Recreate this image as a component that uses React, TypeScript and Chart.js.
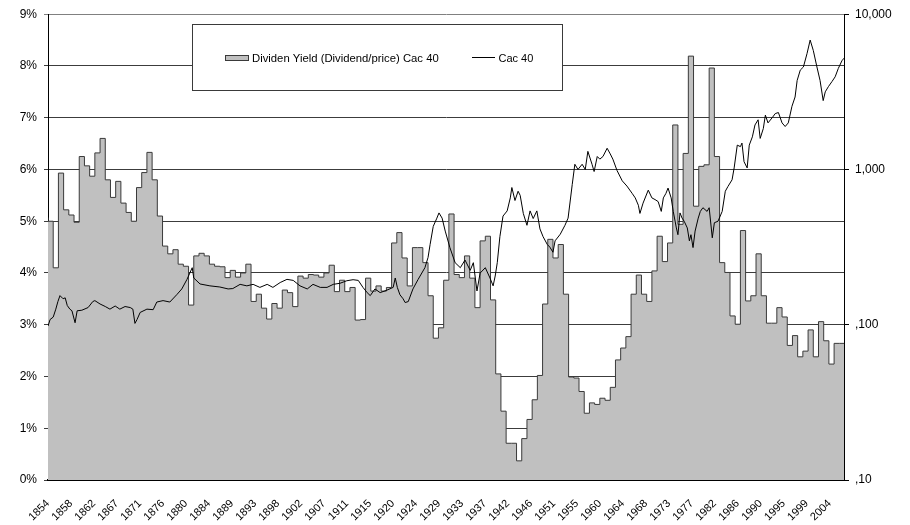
import { useEffect, useRef } from 'react';
import { Chart, registerables } from 'chart.js';

Chart.register(...registerables);

// ---------- data ----------
const xTickLabels = ['1854', '1858', '1862', '1867', '1871', '1876', '1880', '1884', '1889', '1893', '1898', '1902', '1907', '1911', '1915', '1920', '1924', '1929', '1933', '1937', '1942', '1946', '1951', '1955', '1960', '1964', '1968', '1973', '1977', '1982', '1986', '1990', '1995', '1999', '2004'];
const xFirstTick = 1854;
const xTickStepYears = 53 / 12; // one label every 53 months
const xMin = 1854;
const xMax = 2006.9;

const yieldLabel = 'Dividen Yield (Dividend/price) Cac 40';
const cacLabel = 'Cac 40';

// Annual dividend yield (%), 1854 .. 2006
const yieldStartYear = 1854;
const dividendYield = [
  5.07, 5.0, 4.1, 5.93, 5.22, 5.12, 4.98, 6.25, 6.07, 5.87,
  6.32, 6.6, 5.8, 5.46, 5.77, 5.35, 5.17, 5.0, 5.65, 5.94,
  6.33, 5.8, 5.1, 4.52, 4.37, 4.45, 4.17, 4.13, 3.38, 4.33,
  4.38, 4.33, 4.17, 4.13, 4.12, 3.91, 4.05, 3.92, 4.0, 4.17,
  3.45, 3.59, 3.32, 3.11, 3.41, 3.32, 3.67, 3.62, 3.35, 3.94,
  3.9, 3.97, 3.96, 3.92, 4.0, 4.15, 3.64, 3.86, 3.64, 3.72,
  3.09, 3.1, 3.9, 3.65, 3.75, 3.65, 3.72, 4.58, 4.78, 4.29,
  3.75, 4.49, 4.49, 4.2, 3.56, 2.74, 2.94, 3.86, 5.14, 3.97,
  3.91, 4.33, 3.9, 3.33, 4.62, 4.71, 3.48, 2.05, 1.33, 0.71,
  0.71, 0.37, 0.8, 1.17, 1.55, 2.02, 3.4, 4.65, 4.29, 4.55,
  3.59, 1.99, 1.97, 1.71, 1.29, 1.49, 1.46, 1.58, 1.54, 1.79,
  2.32, 2.55, 2.77, 3.59, 3.96, 3.59, 3.45, 4.04, 4.71, 4.22,
  4.58, 6.86, 4.94, 6.31, 8.19, 5.29, 6.06, 6.09, 7.96, 6.25,
  4.2, 4.01, 3.17, 3.01, 4.82, 3.46, 3.56, 4.37, 3.56, 3.03,
  3.03, 3.33, 3.15, 2.6, 2.79, 2.38, 2.49, 2.9, 2.38, 3.06,
  2.69, 2.24, 2.64,
];

// Cac 40 index (log scale)
const cacYears = [
  1854.0, 1854.4, 1855.0, 1855.5, 1855.9, 1856.3, 1856.9, 1857.3, 1857.7, 1858.2, 1858.6, 1859.2, 1859.6,
  1860.5, 1861.7, 1862.6, 1863.0, 1864.0, 1865.0, 1865.9, 1866.9, 1867.8, 1868.8, 1869.8, 1870.3, 1870.7, 1871.1, 1871.7, 1873.0, 1874.2, 1874.9, 1876.1, 1877.4, 1878.8, 1879.7,
  1880.7, 1881.7, 1882.0, 1883.2, 1885.1, 1887.0, 1888.6, 1889.5, 1890.9, 1892.2, 1893.4, 1894.7, 1896.1, 1897.2, 1898.6, 1899.9,
  1901.1, 1902.4, 1903.8, 1904.9, 1906.3, 1907.6, 1908.8, 1910.1, 1911.4, 1912.6, 1913.6, 1914.5, 1915.3, 1915.9, 1916.8, 1917.8, 1919.1,
  1920.3, 1920.7, 1921.1, 1921.6, 1922.2, 1922.6, 1923.2, 1924.1, 1925.1, 1926.4, 1927.0, 1927.4, 1928.0, 1928.7, 1929.1, 1929.7,
  1930.3, 1931.2, 1932.2, 1933.2, 1934.1, 1935.1, 1935.7, 1936.4, 1937.0, 1938.0, 1938.9, 1939.5, 1939.9,
  1940.3, 1940.8, 1941.4, 1942.2, 1942.8, 1943.1, 1943.7, 1944.3, 1944.7, 1945.3, 1946.0, 1946.6, 1947.2, 1947.9, 1948.5, 1949.1, 1949.9,
  1950.4, 1951.0, 1951.4, 1952.4, 1953.3, 1953.9, 1954.7, 1955.2, 1955.8, 1956.6, 1957.2, 1957.7, 1958.5, 1958.9, 1959.5,
  1960.0, 1960.6, 1961.4, 1962.0, 1962.5, 1963.3, 1964.3, 1965.2, 1966.2, 1966.8, 1967.4, 1967.7, 1968.3, 1969.3,
  1970.0, 1970.6, 1971.2, 1971.8, 1972.2, 1972.7, 1973.1, 1973.7, 1974.1, 1974.7, 1975.0, 1975.4, 1975.8, 1976.2, 1976.8, 1977.2, 1977.5, 1977.9, 1978.3, 1978.9, 1979.3, 1979.8,
  1980.6, 1981.0, 1981.6, 1982.0, 1982.7, 1983.5, 1984.1, 1984.6, 1985.4, 1985.8, 1986.4, 1987.0, 1987.3, 1987.7, 1988.3, 1988.7, 1989.3, 1989.8,
  1990.4, 1990.8, 1991.4, 1991.8, 1992.3, 1993.1, 1993.7, 1994.3, 1995.0, 1995.6, 1996.2, 1996.9, 1997.5, 1997.9, 1998.5, 1999.1, 1999.8,
  2000.4, 2001.0, 2001.7, 2002.3, 2002.9, 2003.3, 2003.9, 2004.6, 2005.2, 2005.8, 2006.5, 2006.9,
];
const cacValues = [
  98, 108, 112, 126, 141, 154, 147, 149, 133, 126, 123, 103, 123,
  124, 129, 141, 143, 136, 131, 126, 132, 126, 131, 129, 126, 102, 108, 120, 126, 125, 140, 143, 140, 157, 170,
  196, 233, 200, 183, 178, 175, 170, 171, 182, 178, 182, 174, 182, 174, 187, 196,
  193, 178, 170, 182, 174, 174, 182, 185, 192, 195, 193, 174, 161, 154, 170, 161, 167,
  174, 200, 174, 156, 147, 139, 141, 170, 196, 233, 271, 329, 430, 486, 525, 486,
  401, 314, 251, 233, 261, 224, 251, 165, 215, 233, 200, 178, 206,
  251, 369, 501, 541, 656, 765, 631, 724, 681, 521, 437, 541, 483, 541, 414, 369, 329,
  316, 293, 347, 383, 437, 486, 801, 1080, 1000, 1080, 1000, 1308, 1080, 970, 1212,
  1166, 1212, 1370, 1259, 1166, 985, 845, 782, 702, 656, 588, 521, 607, 736,
  656, 640, 621, 537, 656, 702, 759, 656, 537, 420, 380, 525, 486, 464, 420, 347, 380, 314, 401, 486, 537, 567,
  537, 567, 363, 454, 464, 537, 724, 776, 858, 1023, 1435, 1403, 1479, 1122, 1023, 1435, 1622, 1935,
  2089, 1585, 1834, 2239, 1995, 2154, 2291, 2326, 1995, 1891, 1995, 2551, 2929, 3744, 4365, 4571, 5581,
  6813, 5843, 4571, 3744, 2776, 3162, 3415, 3686, 3951, 4467, 5012, 5209,
];

const leftTickMax = 9;
const rightTickValues = [10, 100, 1000, 10000];
const rightTickLabels = [',10', ',100', '1,000', '10,000'];

// ---------- styles ----------
const FONT = '"Liberation Sans", Arial, Helvetica, sans-serif';
const AREA_FILL = '#c0c0c0';
const AREA_EDGE = '#3a3a3a';

const boxLegend = {
  id: 'boxLegend',
  afterDraw(chart: any) {
    const ctx = chart.ctx;
    const ds = chart.data.datasets;
    ctx.save();
    ctx.fillStyle = '#ffffff';
    ctx.fillRect(192.5, 24.5, 370, 66);
    ctx.strokeStyle = '#3a3a3a';
    ctx.lineWidth = 1;
    ctx.strokeRect(192.5, 24.5, 370, 66);
    // area swatch
    ctx.fillStyle = AREA_FILL;
    ctx.fillRect(225.5, 55.5, 23, 5);
    ctx.strokeStyle = AREA_EDGE;
    ctx.strokeRect(225.5, 55.5, 23, 5);
    ctx.fillStyle = '#000';
    ctx.font = `11.3px ${FONT}`;
    ctx.textBaseline = 'middle';
    ctx.textAlign = 'left';
    ctx.fillText(ds[1].label, 252, 58.5);
    // line swatch
    ctx.strokeStyle = '#000';
    ctx.beginPath();
    ctx.moveTo(472, 57.5);
    ctx.lineTo(495, 57.5);
    ctx.stroke();
    ctx.font = `11px ${FONT}`;
    ctx.fillText(ds[0].label, 498.5, 58.5);
    ctx.restore();
  },
};

export default function App() {
  const ref = useRef<HTMLCanvasElement | null>(null);

  useEffect(() => {
    document.body.style.margin = '0';
    const canvas = ref.current;
    if (!canvas) return;

    const yieldPoints = dividendYield.map((v, i) => ({ x: yieldStartYear + i, y: v }));
    yieldPoints.push({ x: xMax, y: dividendYield[dividendYield.length - 1] });
    const cacPoints = cacYears.map((yr, i) => ({ x: yr, y: cacValues[i] }));

    const chart = new Chart(canvas, {
      type: 'line',
      data: {
        datasets: [
          {
            label: cacLabel,
            data: cacPoints,
            yAxisID: 'y1',
            borderColor: '#000',
            borderWidth: 1,
            pointRadius: 0,
            fill: false,
            tension: 0,
            order: 0,
          },
          {
            label: yieldLabel,
            data: yieldPoints,
            yAxisID: 'y',
            stepped: 'after',
            borderColor: AREA_EDGE,
            borderWidth: 1,
            backgroundColor: AREA_FILL,
            fill: 'origin',
            pointRadius: 0,
            order: 1,
          },
        ],
      },
      options: {
        responsive: false,
        animation: false,
        devicePixelRatio: 1,
        layout: { padding: { top: 12, left: 0, right: 0, bottom: 0 } },
        plugins: { legend: { display: false }, tooltip: { enabled: false } },
        scales: {
          x: {
            type: 'linear',
            min: xMin,
            max: xMax,
            afterBuildTicks: (scale: any) => {
              scale.ticks = xTickLabels.map((_, k) => ({ value: xFirstTick + k * xTickStepYears }));
            },
            afterFit: (scale: any) => {
              scale.height = 45;
            },
            ticks: {
              autoSkip: false,
              minRotation: 45,
              maxRotation: 45,
              padding: 17,
              color: '#000',
              font: { family: FONT, size: 11 },
              callback: (_v: any, i: number) => xTickLabels[i],
            },
            grid: { display: false, drawTicks: false },
            border: { display: true, color: '#000', width: 2 },
          },
          y: {
            type: 'linear',
            position: 'left',
            min: 0,
            max: leftTickMax,
            afterFit: (scale: any) => {
              scale.width = 48;
            },
            ticks: {
              stepSize: 1,
              padding: 7,
              color: '#000',
              font: { family: FONT, size: 12 },
              callback: (v: any) => `${v}%`,
            },
            grid: {
              color: (c: any) => (c.tick && c.tick.value === leftTickMax ? '#808080' : '#3c3c3c'),
              lineWidth: 1,
              tickLength: 4,
            },
            border: { display: true, color: '#000', width: 1 },
          },
          y1: {
            type: 'logarithmic',
            position: 'right',
            min: 10,
            max: 10000,
            afterBuildTicks: (scale: any) => {
              scale.ticks = rightTickValues.map((v) => ({ value: v }));
            },
            afterFit: (scale: any) => {
              scale.width = 66;
            },
            ticks: {
              padding: 6,
              color: '#000',
              font: { family: FONT, size: 12 },
              callback: (_v: any, i: number) => rightTickLabels[i],
            },
            grid: { drawOnChartArea: false, tickLength: 5, color: '#000' },
            border: { display: true, color: '#000', width: 1 },
          },
        },
      },
      plugins: [boxLegend],
    });

    return () => chart.destroy();
  }, []);

  return (
    <div style={{ width: 910, height: 525, position: 'relative' }}>
      <canvas ref={ref} width={910} height={525} style={{ display: 'block' }} />
    </div>
  );
}
